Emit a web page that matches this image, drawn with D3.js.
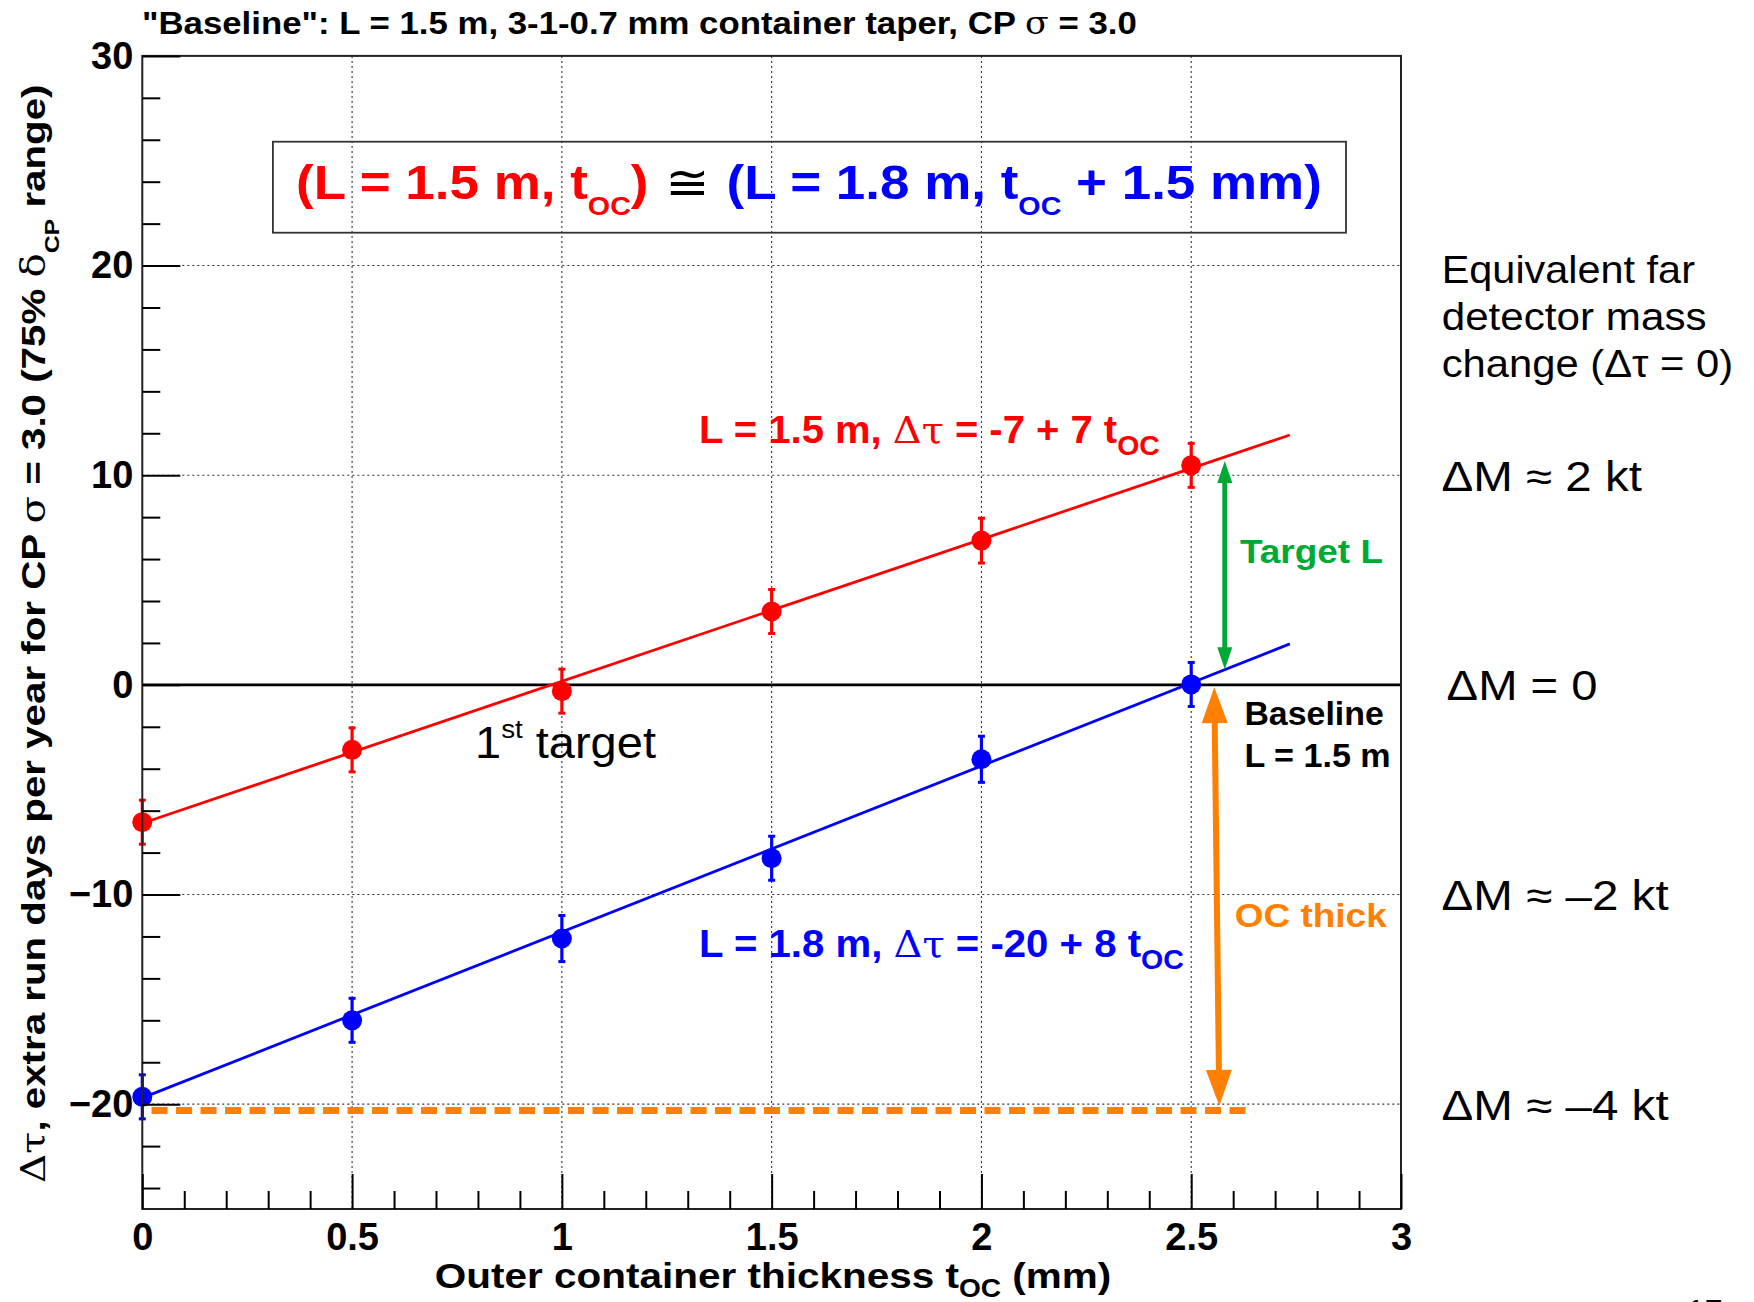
<!DOCTYPE html>
<html><head><meta charset="utf-8">
<script src="https://cdn.jsdelivr.net/npm/d3@7"></script>
<style>body{margin:0;background:#fff} svg{display:block}</style>
</head><body>
<svg id="c" width="1754" height="1302"></svg>
<script>
// ---------------- data ----------------
const thickness   = [0, 0.5, 1.0, 1.5, 2.0, 2.5];
const redValues   = [-6.55, -3.1, -0.3, 3.5, 6.88, 10.47];
const redErrors   = [1.05, 1.05, 1.05, 1.05, 1.07, 1.05];
const blueValues  = [-19.65, -16.0, -12.1, -8.27, -3.55, 0.02];
const blueErrors  = [1.05, 1.05, 1.1, 1.05, 1.1, 1.05];
const fitRange    = [0, 2.735];
const redFit      = [-6.6, 11.92];
const blueFit     = [-19.7, 1.955];
const xTicksMajor = [0, 0.5, 1, 1.5, 2, 2.5, 3];
const xTickLabels = ["0", "0.5", "1", "1.5", "2", "2.5", "3"];
const yTicksMajor = [-20, -10, 0, 10, 20, 30];
const yTickLabels = ["\u221220", "\u221210", "0", "10", "20", "30"];
const xGrid = [0.5, 1, 1.5, 2, 2.5];
const yGrid = [-20, -10, 10, 20];
const dashedLevel = [-20.3, -20.3];
const dashedRange = [0.022, 2.65];
const greenArrowX = [2.58, 2.58],  greenArrowY = [10.68, 0.74];
const orangeArrowX = [2.555, 2.567], orangeArrowY = [-0.11, -20.08];
const massLabels = ["ΔM ≈ 2 kt", "ΔM = 0", "ΔM ≈ –2 kt", "ΔM ≈ –4 kt"];
const massLevels = [10, 0, -10, -20];

// ---------------- setup ----------------
const svg = d3.select("#c");
const FONT = "'Liberation Sans', Arial, Helvetica, sans-serif";
const SYM = "'DejaVu Serif', 'Liberation Serif', serif";
const RED = "#ff0000", BLUE = "#0000ff", GREEN = "#00a834", ORANGE = "#ff8000";
const L = 142.3, R = 1401, T = 55.9, B = 1209;
const x = d3.scaleLinear().domain([0, 3]).range([L, R]);
const y = d3.scaleLinear().domain([-25, 30]).range([B, T]);

function fitText(sel, x0, width) {
  const bb = sel.node().getBBox();
  const s = width / bb.width;
  sel.attr("transform", `translate(${x0},0) scale(${s},1) translate(${-bb.x},0)`);
}

// grid
const grid = svg.append("g").attr("stroke", "#333").attr("stroke-width", 1.1).attr("stroke-dasharray", "2,3");
grid.selectAll("line.gx").data(xGrid).join("line")
  .attr("x1", d => x(d)).attr("x2", d => x(d)).attr("y1", T).attr("y2", B);
grid.selectAll("line.gy").data(yGrid).join("line")
  .attr("x1", L).attr("x2", R).attr("y1", d => y(d)).attr("y2", d => y(d));

// zero line
svg.append("line").attr("x1", L).attr("x2", R).attr("y1", y(0)).attr("y2", y(0))
  .attr("stroke", "#000").attr("stroke-width", 2.6);

// orange dashed level
svg.append("line").attr("x1", x(dashedRange[0])).attr("x2", x(dashedRange[1]))
  .attr("y1", y(dashedLevel[0])).attr("y2", y(dashedLevel[1]))
  .attr("stroke", ORANGE).attr("stroke-width", 7).attr("stroke-dasharray", "16,8.5");

// fit lines
const line = d3.line().x(d => x(d[0])).y(d => y(d[1]));
[[redFit, RED], [blueFit, BLUE]].forEach(([f, c]) => {
  svg.append("path").attr("d", line(fitRange.map((t, i) => [t, f[i]])))
    .attr("fill", "none").attr("stroke", c).attr("stroke-width", 2.8);
});

// points with error bars
function series(vals, errs, col) {
  const g = svg.append("g").attr("stroke", col).attr("fill", col);
  thickness.forEach((t, i) => {
    const cx = x(t), y1 = y(vals[i] + errs[i]), y2 = y(vals[i] - errs[i]);
    g.append("line").attr("x1", cx).attr("x2", cx).attr("y1", y1).attr("y2", y2).attr("stroke-width", 3.2);
    g.append("line").attr("x1", cx - 3.5).attr("x2", cx + 3.5).attr("y1", y1).attr("y2", y1).attr("stroke-width", 3);
    g.append("line").attr("x1", cx - 3.5).attr("x2", cx + 3.5).attr("y1", y2).attr("y2", y2).attr("stroke-width", 3);
    g.append("circle").attr("cx", cx).attr("cy", y(vals[i])).attr("r", 10).attr("stroke", "none");
  });
}
series(redValues, redErrors, RED);
series(blueValues, blueErrors, BLUE);

// double arrows
function dblArrow(xs, ys, col, shaftW, headW, headL) {
  const p1 = [x(xs[0]), y(ys[0])], p2 = [x(xs[1]), y(ys[1])];
  const dx = p2[0] - p1[0], dy = p2[1] - p1[1], len = Math.hypot(dx, dy);
  const ux = dx / len, uy = dy / len, nx = -uy, ny = ux;
  const g = svg.append("g");
  g.append("line")
    .attr("x1", p1[0] + ux * headL * 0.8).attr("y1", p1[1] + uy * headL * 0.8)
    .attr("x2", p2[0] - ux * headL * 0.8).attr("y2", p2[1] - uy * headL * 0.8)
    .attr("stroke", col).attr("stroke-width", shaftW);
  const head = (tip, s) => {
    const bx = tip[0] + s * ux * headL, by = tip[1] + s * uy * headL;
    return [[tip[0], tip[1]], [bx + nx * headW / 2, by + ny * headW / 2], [bx - nx * headW / 2, by - ny * headW / 2]];
  };
  [head(p1, 1), head(p2, -1)].forEach(pts =>
    g.append("polygon").attr("points", pts.map(p => p.join(",")).join(" ")).attr("fill", col));
}
dblArrow(greenArrowX, greenArrowY, GREEN, 5, 15, 22);
dblArrow(orangeArrowX, orangeArrowY, ORANGE, 6, 26, 36);

// frame
svg.append("rect").attr("x", L).attr("y", T).attr("width", R - L).attr("height", B - T)
  .attr("fill", "none").attr("stroke", "#222").attr("stroke-width", 2);

// axes
const xAxis = d3.axisBottom(x).tickValues(xTicksMajor)
  .tickFormat((d, i) => xTickLabels[i]).tickSizeInner(-35).tickSizeOuter(0).tickPadding(14);
svg.append("g").attr("transform", `translate(0,${B})`).call(xAxis);
const xMinor = d3.range(1, 30).map(i => i / 10).filter(v => Math.abs(v * 2 - Math.round(v * 2)) > 1e-6);
svg.append("g").attr("transform", `translate(0,${B})`)
  .call(d3.axisBottom(x).tickValues(xMinor).tickFormat("").tickSizeInner(-18).tickSizeOuter(0));

const yAxis = d3.axisLeft(y).tickValues(yTicksMajor)
  .tickFormat((d, i) => yTickLabels[i]).tickSizeInner(-38).tickSizeOuter(0).tickPadding(9);
svg.append("g").attr("transform", `translate(${L},0)`).call(yAxis);
const yMinor = d3.range(-24, 30, 2).filter(v => v % 10 !== 0);
svg.append("g").attr("transform", `translate(${L},0)`)
  .call(d3.axisLeft(y).tickValues(yMinor).tickFormat("").tickSizeInner(-18).tickSizeOuter(0));

svg.selectAll(".domain").remove();
svg.selectAll(".tick line").attr("stroke", "#000").attr("stroke-width", 2);
svg.selectAll(".tick text").attr("font-family", FONT).attr("font-weight", "bold")
  .attr("font-size", 38).attr("fill", "#000");

// ---------------- texts ----------------
function txt(xp, yp, size, weight, col) {
  return svg.append("text").attr("x", xp).attr("y", yp).attr("font-family", FONT)
    .attr("font-size", size).attr("font-weight", weight).attr("fill", col);
}

// title
const title = txt(0, 33.6, 31, "bold", "#000");
title.append("tspan").text("\"Baseline\": L = 1.5 m, 3-1-0.7 mm container taper, CP ");
title.append("tspan").attr("font-family", SYM).attr("font-weight", "normal").text("σ");
title.append("tspan").text(" = 3.0");
fitText(title, 142, 995);

// box
svg.append("rect").attr("x", 272.9).attr("y", 141.7).attr("width", 1346 - 272.9).attr("height", 232.7 - 141.7)
  .attr("fill", "none").attr("stroke", "#333").attr("stroke-width", 1.8);
const bt = txt(0, 199, 48, "bold", RED);
bt.append("tspan").text("(L = 1.5 m, t");
bt.append("tspan").attr("font-size", 26).attr("dy", 16).text("OC");
bt.append("tspan").attr("dy", -16).text(")");
bt.append("tspan").attr("fill", "#000").attr("font-weight", "normal").attr("font-family", "'DejaVu Sans', sans-serif").text(" \u2245 ");
bt.append("tspan").attr("fill", BLUE).text("(L = 1.8 m, t");
bt.append("tspan").attr("fill", BLUE).attr("font-size", 26).attr("dy", 16).text("OC");
bt.append("tspan").attr("fill", BLUE).attr("dy", -16).text(" + 1.5 mm)");
fitText(bt, 296, 1026);

// equations
function equation(str1, col, yb, x0, w, str2) {
  const t = txt(0, yb, 38, "bold", col);
  t.append("tspan").text(str1 + "  ");
  t.append("tspan").attr("font-family", SYM).attr("font-weight", "normal").text("Δτ");
  t.append("tspan").text(str2);
  t.append("tspan").attr("font-size", 27).attr("dy", 12).text("OC");
  fitText(t, x0, w);
}
equation("L = 1.5 m,", RED, 443.3, 699, 461, " = -7 + 7 t");
equation("L = 1.8 m,", BLUE, 957.3, 699, 485, " = -20 + 8 t");

// 1st target
const ft = txt(0, 758.3, 44, "normal", "#000");
ft.append("tspan").text("1");
ft.append("tspan").attr("font-size", 26).attr("dy", -20).text("st");
ft.append("tspan").attr("dy", 20).text(" target");
fitText(ft, 475, 181);

// right-side labels inside the frame
fitText(txt(0, 563.3, 33, "bold", GREEN).text("Target L"), 1240, 143);
fitText(txt(0, 725, 33, "bold", "#000").text("Baseline"), 1244.4, 139.4);
fitText(txt(0, 766.7, 33, "bold", "#000").text("L = 1.5 m"), 1244.4, 146.4);
fitText(txt(0, 926.7, 34, "bold", ORANGE).text("OC thick"), 1234.7, 152.2);

// outer right texts
fitText(txt(0, 282.7, 39, "normal", "#000").text("Equivalent far"), 1441.7, 253.3);
fitText(txt(0, 330, 39, "normal", "#000").text("detector mass"), 1441.7, 265);
fitText(txt(0, 376.7, 39, "normal", "#000").text("change (Δτ = 0)"), 1441.7, 291.6);
const massWidths = [200.7, 151, 227.4, 227.4];
const massX = [1441.6, 1446.6, 1441.6, 1441.6];
massLabels.forEach((s, i) => {
  fitText(txt(0, y(massLevels[i]) + 15.5, 42, "normal", "#000").text(s), massX[i], massWidths[i]);
});

// page number (mostly below the bottom edge, as in the reference)
txt(1687, 1322, 32, "normal", "#000").text("17");

// axis titles
const xt = txt(0, 1288.5, 36, "bold", "#000");
xt.append("tspan").text("Outer container thickness t");
xt.append("tspan").attr("font-size", 25).attr("dy", 9).text("OC");
xt.append("tspan").attr("dy", -9).text(" (mm)");
fitText(xt, 434.8, 676.8);

const yg = svg.append("g").attr("transform", "translate(45,1183) rotate(-90)");
const yt = yg.append("text").attr("x", 0).attr("y", 0).attr("font-family", FONT)
  .attr("font-size", 34).attr("font-weight", "bold").attr("fill", "#000");
yt.append("tspan").attr("font-family", SYM).attr("font-weight", "normal").text("Δτ");
yt.append("tspan").text(", extra run days per year for CP ");
yt.append("tspan").attr("font-family", SYM).attr("font-weight", "normal").text("σ");
yt.append("tspan").text(" = 3.0 (75% ");
yt.append("tspan").attr("font-family", SYM).attr("font-weight", "normal").text("δ");
yt.append("tspan").attr("font-size", 21).attr("dy", 14).text("CP");
yt.append("tspan").attr("dy", -14).text(" range)");
fitText(yt, 0, 1099);
</script>
</body></html>
